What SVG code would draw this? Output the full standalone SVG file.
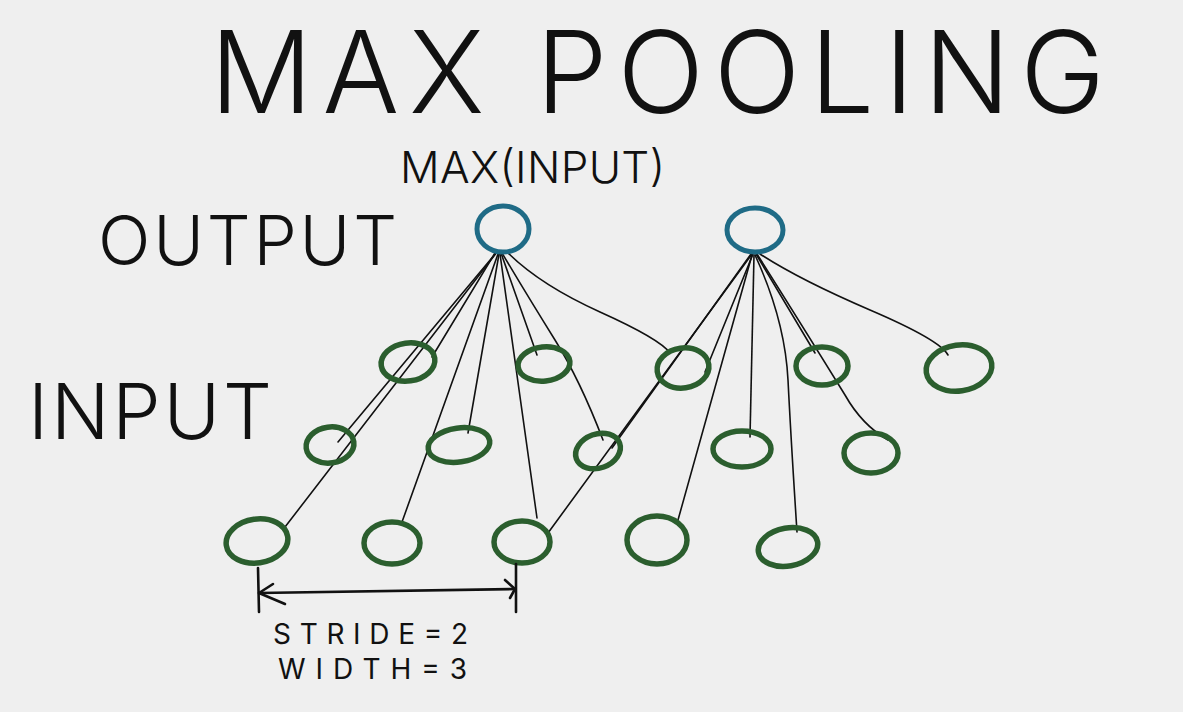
<svg xmlns="http://www.w3.org/2000/svg" width="1183" height="712" viewBox="0 0 1183 712">
<defs>
<style>
.hand{font-family:Inter,Roboto,"Open Sans","Liberation Sans",sans-serif;font-weight:300;fill:#111}
.small{font-weight:400}
.out{fill:none;stroke:#1f6b86;stroke-width:5}
.in{fill:none;stroke:#2b5e2e;stroke-width:5.5}
.wire{fill:none;stroke:#111;stroke-width:1.6;stroke-linecap:round}
.dim{fill:none;stroke:#111;stroke-width:2.6;stroke-linecap:round;stroke-linejoin:round}
</style>
</defs>
<rect width="1183" height="712" fill="#efefef"/>

<g id="title"><text class="hand" x="210" y="113" font-size="114" textLength="895" lengthAdjust="spacing">MAX POOLING</text></g>
<g id="label-max"><text class="hand" x="400" y="183" font-size="44" textLength="265" lengthAdjust="spacing">MAX(INPUT)</text></g>
<g id="label-output"><text class="hand" x="98" y="265" font-size="69" textLength="299" lengthAdjust="spacing">OUTPUT</text></g>
<g id="label-input"><text class="hand" x="28" y="439" font-size="77" textLength="244" lengthAdjust="spacing">INPUT</text></g>

<g id="connectors">
<line class="wire" x1="497" y1="252" x2="285" y2="527"/>
<line class="wire" x1="496" y1="253" x2="338" y2="442"/>
<line class="wire" x1="495" y1="253" x2="432" y2="357"/>
<line class="wire" x1="498" y1="254" x2="402" y2="522"/>
<line class="wire" x1="499" y1="254" x2="468" y2="433"/>
<line class="wire" x1="500" y1="254" x2="537" y2="518"/>
<line class="wire" x1="501" y1="253" x2="537" y2="355"/>
<path class="wire" d="M502,253 Q530,300 555,340 T603,440"/>
<path class="wire" d="M507,252 Q540,285 600,312 T670,353"/>
<line class="wire" x1="752" y1="254" x2="548" y2="533"/>
<line class="wire" x1="751" y1="254" x2="612" y2="448"/>
<line class="wire" x1="753" y1="254" x2="705" y2="372"/>
<line class="wire" x1="752" y1="255" x2="678" y2="520"/>
<line class="wire" x1="754" y1="255" x2="750" y2="437"/>
<path class="wire" d="M755,255 Q785,320 788,380 T797,532"/>
<line class="wire" x1="756" y1="254" x2="815" y2="353"/>
<path class="wire" d="M757,254 Q805,330 845,395 Q862,425 888,440"/>
<path class="wire" d="M760,254 Q800,280 870,310 T948,355"/>
</g>

<g id="output-1"><ellipse class="out" cx="503" cy="229" rx="26" ry="23"/></g>
<g id="output-2"><ellipse class="out" cx="755" cy="230" rx="28" ry="22"/></g>

<g id="input-a"><ellipse class="in" cx="408" cy="362" rx="27" ry="19" transform="rotate(-8 408 362)"/></g>
<g id="input-b"><ellipse class="in" cx="544" cy="364" rx="26" ry="17" transform="rotate(-6 544 364)"/></g>
<g id="input-c"><ellipse class="in" cx="683" cy="368" rx="26" ry="20" transform="rotate(-8 683 368)"/></g>
<g id="input-d"><ellipse class="in" cx="822" cy="366" rx="26" ry="19"/></g>
<g id="input-e"><ellipse class="in" cx="959" cy="368" rx="33" ry="23" transform="rotate(-8 959 368)"/></g>

<g id="input-f"><ellipse class="in" cx="330" cy="445" rx="24" ry="18" transform="rotate(-8 330 445)"/></g>
<g id="input-g"><ellipse class="in" cx="459" cy="445" rx="31" ry="17" transform="rotate(-8 459 445)"/></g>
<g id="input-h"><ellipse class="in" cx="598" cy="451" rx="23" ry="17" transform="rotate(-20 598 451)"/></g>
<g id="input-i"><ellipse class="in" cx="742" cy="449" rx="29" ry="18"/></g>
<g id="input-j"><ellipse class="in" cx="871" cy="453" rx="27" ry="20"/></g>

<g id="input-k"><ellipse class="in" cx="257" cy="541" rx="31" ry="22" transform="rotate(-8 257 541)"/></g>
<g id="input-l"><ellipse class="in" cx="392" cy="543" rx="28" ry="21"/></g>
<g id="input-m"><ellipse class="in" cx="522" cy="542" rx="28" ry="21"/></g>
<g id="input-n"><ellipse class="in" cx="657" cy="540" rx="30" ry="24"/></g>
<g id="input-p"><ellipse class="in" cx="788" cy="547" rx="30" ry="19" transform="rotate(-10 788 547)"/></g>

<g id="stride-marker">
<path class="dim" d="M258,568 L259,612"/>
<path class="dim" d="M516,564 L516,612"/>
<path class="dim" d="M259,593 L515,589"/>
<path class="dim" d="M273,584 L259,593 L285,604"/>
<path class="dim" d="M505,580 L515,589 L510,598"/>
</g>
<g id="label-stride">
<text class="hand small" x="273" y="644" font-size="28" textLength="195" lengthAdjust="spacing">STRIDE=2</text>
<text class="hand small" x="278" y="679" font-size="28" textLength="189" lengthAdjust="spacing">WIDTH=3</text>
</g>
</svg>
